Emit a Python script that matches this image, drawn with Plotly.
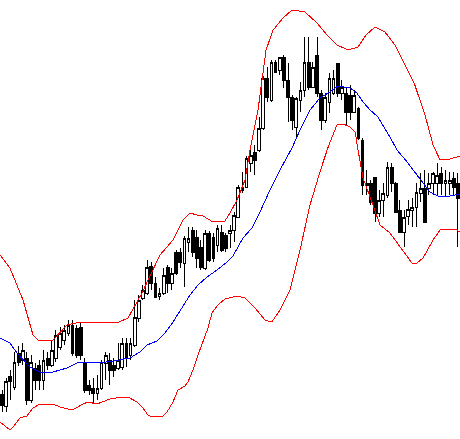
import plotly.graph_objects as go

# OHLC values (price units)
open_ = [45, 33, 63, 52, 86, 79, 81, 39, 71, 74,
         59, 81, 74, 81, 92, 99, 106, 114, 111, 112,
         77, 54, 51, 46, 51, 76, 79, 74, 71, 72,
         96, 84, 94, 121, 141, 146, 173, 156, 143, 146,
         172, 156, 187, 187, 176, 197, 209, 202, 192, 171,
         206, 202, 194, 207, 204, 206, 209, 222, 252, 252,
         276, 287, 289, 311, 361, 339, 377, 369, 382, 359,
         342, 312, 339, 349, 377, 352, 384, 346, 319, 337,
         346, 376, 346, 346, 344, 327, 331, 299, 256, 256,
         262, 226, 239, 244, 272, 256, 229, 207, 223, 229,
         232, 246, 251, 251, 256, 256, 266, 256, 256, 261, 256]
high = [49, 61, 69, 87, 93, 96, 87, 84, 76, 79,
        89, 87, 99, 109, 112, 114, 119, 119, 114, 116,
        81, 59, 61, 64, 79, 87, 86, 81, 96, 101,
        101, 101, 139, 144, 154, 179, 177, 162, 151, 171,
        174, 171, 189, 191, 203, 212, 212, 209, 199, 209,
        208, 206, 214, 214, 206, 214, 227, 254, 267, 283,
        289, 294, 322, 363, 372, 379, 379, 382, 384, 376,
        344, 342, 357, 402, 402, 377, 402, 349, 346, 366,
        369, 376, 359, 351, 354, 349, 332, 301, 269, 259,
        262, 249, 256, 277, 276, 257, 239, 229, 239, 241,
        256, 266, 269, 266, 267, 276, 272, 269, 267, 267, 266]
low = [27, 27, 39, 49, 73, 74, 34, 36, 49, 49,
       49, 69, 72, 77, 89, 94, 103, 83, 81, 79,
       46, 44, 36, 39, 49, 59, 54, 62, 69, 69,
       72, 79, 92, 117, 139, 144, 149, 141, 139, 144,
       146, 149, 164, 171, 152, 187, 182, 171, 169, 169,
       177, 177, 187, 187, 187, 191, 197, 221, 246, 251,
       267, 264, 287, 309, 337, 337, 366, 364, 351, 317,
       309, 302, 327, 342, 349, 351, 342, 309, 316, 326,
       344, 342, 339, 314, 319, 326, 299, 244, 244, 234,
       217, 222, 222, 241, 247, 226, 206, 192, 214, 212,
       212, 237, 217, 244, 244, 244, 244, 242, 244, 244, 192]
close = [34, 58, 58, 77, 77, 89, 39, 77, 59, 59,
         79, 74, 89, 104, 106, 109, 114, 86, 84, 84,
         49, 49, 46, 51, 77, 84, 69, 69, 79, 96,
         81, 96, 122, 139, 149, 172, 156, 142, 146, 164,
         156, 166, 166, 177, 201, 201, 187, 181, 172, 206,
         179, 181, 211, 189, 191, 209, 224, 252, 249, 281,
         284, 279, 311, 361, 342, 377, 367, 382, 359, 342,
         319, 341, 349, 377, 352, 372, 346, 319, 342, 361,
         361, 346, 352, 327, 327, 344, 301, 254, 254, 237,
         226, 239, 246, 272, 256, 227, 207, 222, 230, 232,
         247, 251, 217, 256, 266, 264, 256, 259, 259, 252, 241]
bars = list(range(len(close)))

# Bollinger bands, read at sample positions (bar index units)
upper_x = [-0.5, 1.9, 5.05, 7.46, 8.67, 12.29, 15.67, 18.8, 23.63, 27.73,
           30.39, 32.08, 33.76, 38.1, 41.25, 43.66, 45.35, 47.04, 48.49, 50.9,
           53.79, 55.0, 56.69, 58.62, 59.83, 61.76, 62.72, 63.7, 65.4, 67.8,
           69.96, 73.1, 76.0, 78.4, 80.8, 83.5, 85.9, 87.8, 90.0, 92.4,
           94.8, 97.2, 99.6, 102.05, 104.0, 105.7, 108.1, 110.5]
upper_y = [184, 171, 139, 104, 99, 99, 114, 117, 117, 116,
           121, 134, 146, 184, 199, 219, 226, 224, 223, 217,
           218, 226, 239, 259, 289, 329, 359, 389, 409, 421,
           429, 427, 416, 404, 394, 389, 392, 404, 412, 407,
           394, 374, 354, 324, 294, 279, 280, 283]

mid_x = [-0.5, 1.9, 3.6, 6.74, 9.15, 12.29, 15.67, 18.08, 20.5, 23.63,
         26.77, 30.87, 33.28, 34.97, 37.38, 39.3, 41.25, 43.42, 45.35, 47.28,
         49.45, 51.86, 54.28, 55.72, 58.14, 60.3, 62.24, 64.65, 67.06, 69.96,
         71.9, 74.3, 76.7, 79.1, 81.06, 83.96, 85.6, 87.1, 88.8, 90.7,
         91.9, 93.6, 95.3, 97.95, 100.85, 103.26, 105.2, 108.1, 110.5]
mid_y = [101, 96, 86, 72, 67, 67, 71, 76, 77, 76,
         78, 81, 87, 94, 98, 106, 117, 131, 144, 154,
         162, 169, 177, 183, 201, 211, 227, 249, 269, 291,
         309, 329, 341, 347, 353, 351, 346, 337, 329, 322,
         314, 302, 289, 276, 260, 247, 243, 243, 245]

lower_x = [-0.5, 1.19, 1.9, 2.64, 4.33, 6.0, 7.46, 9.15, 12.29, 13.98,
           15.67, 16.87, 18.32, 19.53, 20.73, 22.9, 26.04, 29.18, 30.39, 32.56,
           34.0, 35.2, 35.7, 38.6, 39.8, 41.25, 42.45, 44.14, 44.86, 46.07,
           47.28, 48.49, 49.69, 50.66, 52.1, 53.79, 56.69, 58.62, 61.03, 63.44,
           65.1, 67.06, 69.48, 71.9, 74.3, 76.7, 78.6, 80.8, 82.3, 83.96,
           85.2, 85.9, 87.1, 88.8, 90.0, 91.2, 93.6, 96.0, 97.7, 98.9,
           100.1, 101.6, 104.0, 105.7, 109.3, 110.5]
lower_y = [17, 12, 9, 12, 21, 23, 31, 35, 35, 32,
           30, 29, 32, 35, 37, 35, 40, 42, 42, 37,
           31, 24, 23, 22, 27, 37, 49, 53, 57, 69,
           84, 97, 111, 126, 134, 140, 143, 141, 131, 119,
           117, 129, 149, 189, 234, 267, 291, 314, 315, 312,
           307, 289, 261, 242, 229, 214, 206, 192, 182, 176,
           176, 181, 199, 209, 210, 207]

fig = go.Figure()
fig.add_trace(go.Candlestick(
    x=bars, open=open_, high=high, low=low, close=close,
    increasing=dict(line=dict(color="black", width=1), fillcolor="white"),
    decreasing=dict(line=dict(color="black", width=1), fillcolor="black"),
    whiskerwidth=0, showlegend=False, hoverinfo="skip"))
fig.add_trace(go.Scatter(x=upper_x, y=upper_y, mode="lines",
                         line=dict(color="#ff0000", width=1), showlegend=False))
fig.add_trace(go.Scatter(x=mid_x, y=mid_y, mode="lines",
                         line=dict(color="#0000ff", width=1), showlegend=False))
fig.add_trace(go.Scatter(x=lower_x, y=lower_y, mode="lines",
                         line=dict(color="#ff0000", width=1), showlegend=False))

fig.update_layout(
    width=460, height=439,
    margin=dict(l=0, r=0, t=0, b=0),
    paper_bgcolor="white", plot_bgcolor="white",
    boxgap=0.05,
    xaxis=dict(visible=False, range=[-0.5, len(close) - 0.5],
               rangeslider=dict(visible=False), fixedrange=True),
    yaxis=dict(visible=False, range=[0, 439], fixedrange=True),
    showlegend=False,
)

post = """
document.body.style.margin = '0';
document.body.style.overflow = 'hidden';
document.querySelectorAll('.boxlayer path, .scatterlayer path').forEach(function (p) {
  p.style.shapeRendering = 'crispEdges';
});
"""
fig.write_html("out.html", config={"displayModeBar": False}, post_script=post)
